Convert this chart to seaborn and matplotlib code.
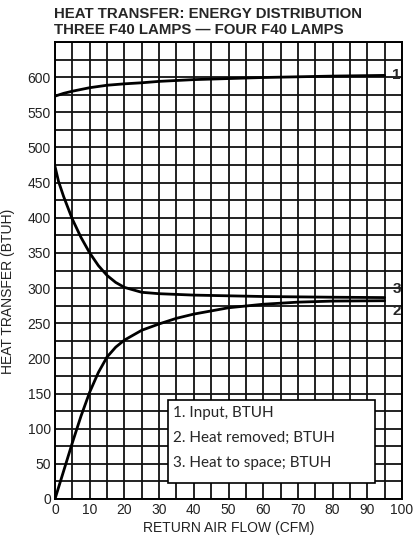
import matplotlib
matplotlib.use("Agg")
import matplotlib.pyplot as plt
import seaborn as sns
import pandas as pd
from matplotlib.patches import Rectangle

# curve 1: input
x_input = [0, 2.5, 5, 10, 15, 20, 25, 30, 40, 50, 60, 70, 80, 95]
y_input = [573, 577, 580, 585, 588.5, 590.5, 592, 594, 596.5, 598, 599.5, 600.5, 601.5, 602.5]

# curve 2: heat removed
x_removed = [0, 2.5, 5, 7.5, 10, 12.5, 15, 17.5, 20, 25, 30, 35, 40, 50, 60, 70, 80, 95]
y_removed = [0, 40, 80, 118, 152, 180, 202, 216, 226, 240, 249, 257, 263, 272, 277, 280, 281.5, 282]

# curve 3: heat to space
x_space = [0, 1, 2.5, 5, 7.5, 10, 12.5, 15, 17.5, 20, 25, 30, 40, 50, 60, 70, 80, 95]
y_space = [473, 452, 430, 398, 372, 350, 332, 318, 308, 301, 294, 292, 290, 289, 288, 287.5, 287, 286.5]

curve_ids = ["1", "2", "3"]
legend_lines = ["1. Input, BTUH", "2. Heat removed; BTUH", "3. Heat to space; BTUH"]
title_lines = ["HEAT TRANSFER: ENERGY DISTRIBUTION", "THREE F40 LAMPS \u2014 FOUR F40 LAMPS"]

df = pd.concat([
    pd.DataFrame({"cfm": x_input, "btuh": y_input, "curve": "1"}),
    pd.DataFrame({"cfm": x_removed, "btuh": y_removed, "curve": "2"}),
    pd.DataFrame({"cfm": x_space, "btuh": y_space, "curve": "3"}),
])

sns.set_style("white")
plt.rcParams["font.family"] = ["Liberation Sans", "DejaVu Sans"]

fig = plt.figure(figsize=(4.19, 5.42), dpi=100)
ax = fig.add_axes([55 / 419, 1 - 499 / 542, 347 / 419, 457 / 542])

sns.lineplot(data=df, x="cfm", y="btuh", units="curve", estimator=None,
             color="black", lw=2.0, sort=False, ax=ax, legend=False)

ax.set_xlim(0, 100)
ax.set_ylim(0, 650)
ax.set_xticks(range(0, 101, 10))
ax.set_xticks(range(0, 101, 5), minor=True)
ax.set_yticks(range(0, 601, 50))
ax.set_yticks(range(0, 651, 25), minor=True)
ax.grid(which="both", color="#111", lw=1.3)
ax.set_axisbelow(True)
ax.tick_params(which="both", length=0, labelsize=10, labelcolor="#222", pad=3)
for s in ax.spines.values():
    s.set_color("black")
    s.set_linewidth(1.4)

ax.set_xlabel("RETURN AIR FLOW (CFM)", fontsize=10, color="#222", labelpad=3)
ax.set_ylabel("HEAT TRANSFER (BTUH)", fontsize=10, color="#222")
ax.yaxis.set_label_coords(-0.115, 0.455)

# end labels
ends = {"1": (x_input[-1], y_input[-1]), "2": (x_removed[-1], y_removed[-1] - 14),
        "3": (x_space[-1], y_space[-1] + 12)}
for cid in curve_ids:
    ex, ey = ends[cid]
    ax.text(ex + 2.2, ey, cid, fontsize=11, fontweight="bold", va="center", ha="left")

# legend box
ax.add_patch(Rectangle((32.6, 22.4), 59.6, 118, facecolor="white", edgecolor="black",
                       lw=1.2, zorder=5))
for i, line in enumerate(legend_lines):
    ax.text(34.0, 122 - i * 35.5, line, fontsize=11, family="Lato", va="center",
            ha="left", zorder=6)

for i, t in enumerate(title_lines):
    fig.text(54 / 419, 1 - (14.5 + i * 15.2) / 542, t, fontsize=10.8, fontweight="bold",
             va="center", ha="left")

fig.savefig("out.png", dpi=100)
